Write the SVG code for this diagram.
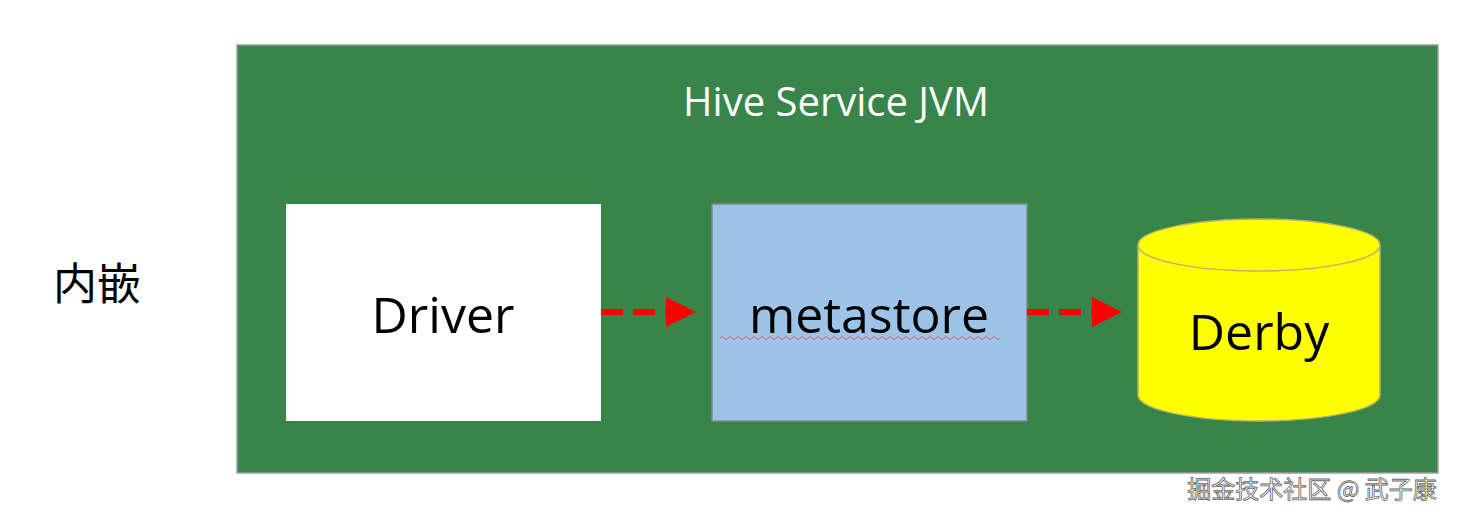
<svg xmlns="http://www.w3.org/2000/svg" width="1464" height="518" viewBox="0 0 1464 518">
<defs>
<style>
.t{font-family:"Open Sans","Liberation Sans",sans-serif;fill:#000}
.c{stroke:#ff0000;stroke-width:6;stroke-dasharray:22,10;fill:none}
</style>
<marker id="ah" markerWidth="5" markerHeight="5" refX="4" refY="2.5" orient="auto" markerUnits="strokeWidth"><path d="M0,0 L5,2.5 L0,5Z" fill="#ff0000" stroke="none"/></marker>
</defs>
<rect width="1464" height="518" fill="#fff"/>
<g id="label"><text x="97" y="300" font-size="44" text-anchor="middle" font-family="'Noto Sans CJK SC',sans-serif">内嵌</text></g>
<g id="jvm">
<rect x="237" y="45" width="1201" height="428" fill="#378549" stroke="#a0a0a0" stroke-width="1.5"/>
<text x="836" y="116" font-size="40" text-anchor="middle" class="t" style="fill:#fff">Hive Service JVM</text>
</g>
<g id="driver"><rect x="286" y="204" width="315" height="217" fill="#fff"/>
<text x="443" y="333" font-size="50" text-anchor="middle" class="t">Driver</text></g>
<g id="metastore"><rect x="712" y="204" width="315" height="217" fill="#9dc3e6" stroke="#888" stroke-width="1.5"/>
<text x="869" y="333" font-size="50" text-anchor="middle" class="t">metastore</text>
<path d="M720,338 q2,-3 4,0 t4,0 t4,0 t4,0 t4,0 t4,0 t4,0 t4,0 t4,0 t4,0 t4,0 t4,0 t4,0 t4,0 t4,0 t4,0 t4,0 t4,0 t4,0 t4,0 t4,0 t4,0 t4,0 t4,0 t4,0 t4,0 t4,0 t4,0 t4,0 t4,0 t4,0 t4,0 t4,0 t4,0 t4,0 t4,0 t4,0 t4,0 t4,0 t4,0 t4,0 t4,0 t4,0 t4,0 t4,0 t4,0 t4,0 t4,0 t4,0 t4,0 t4,0 t4,0 t4,0 t4,0 t4,0 t4,0 t4,0 t4,0 t4,0 t4,0 t4,0 t4,0 t4,0 t4,0 t4,0 t4,0 t4,0 t4,0 t4,0 t4,0" fill="none" stroke="#e06070" stroke-width="1"/></g>
<g id="derby">
<path d="M1138,245 L1138,395 A121,26 0 0 0 1380,395 L1380,245 A121,26 0 0 0 1138,245Z" fill="#ffff00" stroke="#b8b070" stroke-width="1.5"/>
<path d="M1138,245 A121,26 0 0 0 1380,245" fill="none" stroke="#b8b070" stroke-width="1.5"/>
<text x="1259" y="350" font-size="50" text-anchor="middle" class="t">Derby</text></g>
<g id="connectors">
<line x1="601" y1="312" x2="690" y2="312" class="c" marker-end="url(#ah)"/>
<line x1="1027" y1="312" x2="1116" y2="312" class="c" marker-end="url(#ah)"/>
</g>
<g id="watermark"><text x="1312" y="498" font-size="24" text-anchor="middle" font-family="'Noto Sans CJK SC',sans-serif" fill="#fff" stroke="#666" stroke-width="0.8">掘金技术社区 @ 武子康</text></g>
</svg>
